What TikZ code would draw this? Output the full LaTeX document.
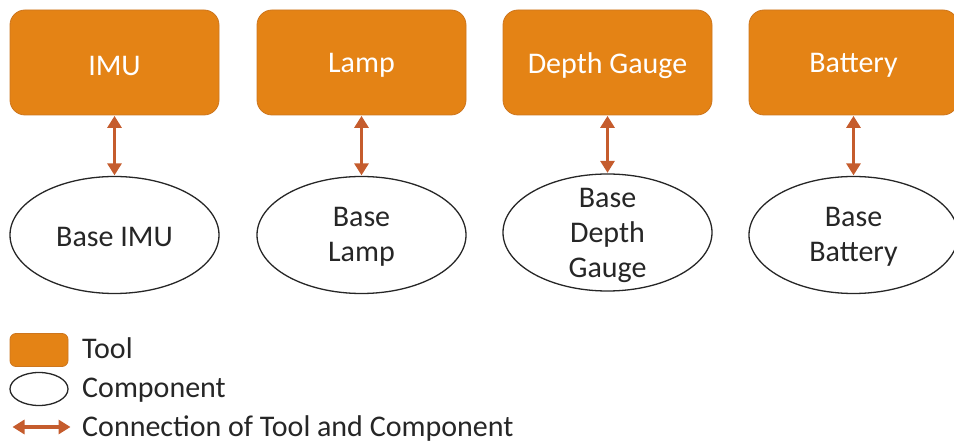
\documentclass[tikz,border=0pt]{standalone}
\usepackage{fontspec}
\setmainfont{Carlito}
\usetikzlibrary{shapes.geometric,arrows.meta}
\definecolor{toolfill}{RGB}{228,131,21}
\definecolor{tooledge}{RGB}{205,118,30}
\definecolor{linkcol}{RGB}{197,92,45}
\definecolor{txt}{RGB}{38,38,38}
\tikzset{
  toolbox/.style={draw=tooledge, line width=0.8pt, fill=toolfill, rounded corners=15pt,
    minimum width=209pt, minimum height=105pt, inner sep=0pt},
  tooltext/.style={inner sep=0pt, text=white, font=\fontsize{30}{36}\selectfont},
  compnode/.style={draw=black!85, line width=1.3pt, fill=white, ellipse,
    minimum width=209pt, minimum height=117pt, inner sep=0pt},
  comptext/.style={inner sep=0pt, text=txt, align=center, font=\fontsize{30}{35}\selectfont},
  link/.style={draw=linkcol, line width=3.8pt,
    {Triangle[width=14pt,length=12pt]}-{Triangle[width=14pt,length=12pt]}, shorten <=0.5pt, shorten >=0.5pt},
  legtext/.style={anchor=base west, inner sep=0pt, text=txt, font=\fontsize{30}{36}\selectfont}
}
\begin{document}
\begin{tikzpicture}[x=1pt,y=-1pt]
  \useasboundingbox (0,0) rectangle (954,443);

  % tools
  \node[toolbox] (t1) at (114.5,62.5) {};
  \node[toolbox] (t2) at (361.5,62.5) {};
  \node[toolbox] (t3) at (607.5,62.5) {};
  \node[toolbox] (t4) at (853.5,62.5) {};
  \node[tooltext] (t1l) at ([yshift=-3pt]t1.center) {IMU};
  \node[tooltext] (t2l) at ([yshift=-3pt]t2.center) {Lamp};
  \node[tooltext] (t3l) at ([yshift=-3pt]t3.center) {Depth Gauge};
  \node[tooltext] (t4l) at ([yshift=-3pt]t4.center) {Battery};

  % components
  \node[compnode] (c1) at (114.5,235) {};
  \node[compnode] (c2) at (361.5,235) {};
  \node[compnode] (c3) at (607.5,232.5) {};
  \node[compnode] (c4) at (853.5,235) {};
  \node[comptext] (c1l) at ([yshift=-2pt]c1.center) {Base IMU};
  \node[comptext] (c2l) at ([yshift=-2pt]c2.center) {Base\\Lamp};
  \node[comptext] (c3l) at ([yshift=-3pt]c3.center) {Base\\Depth\\Gauge};
  \node[comptext] (c4l) at ([yshift=-2pt]c4.center) {Base\\Battery};

  % tool-component connections
  \draw[link] (t1.south) -- (c1.north);
  \draw[link] (t2.south) -- (c2.north);
  \draw[link] (t3.south) -- (c3.north);
  \draw[link] (t4.south) -- (c4.north);

  % legend
  \node[toolbox, minimum width=58pt, minimum height=33pt, rounded corners=6pt] (lt) at (39,350) {};
  \node[compnode, minimum width=58pt, minimum height=33pt] (lc) at (39,389) {};
  \coordinate (la) at (12,427);
  \coordinate (lb) at (71,427);
  \draw[link] (la) -- (lb);
  \node[legtext] (ltt) at (82,359) {Tool};
  \node[legtext] (lct) at (82,398) {Component};
  \node[legtext] (lat) at (82,437) {Connection of Tool and Component};
\end{tikzpicture}
\end{document}
